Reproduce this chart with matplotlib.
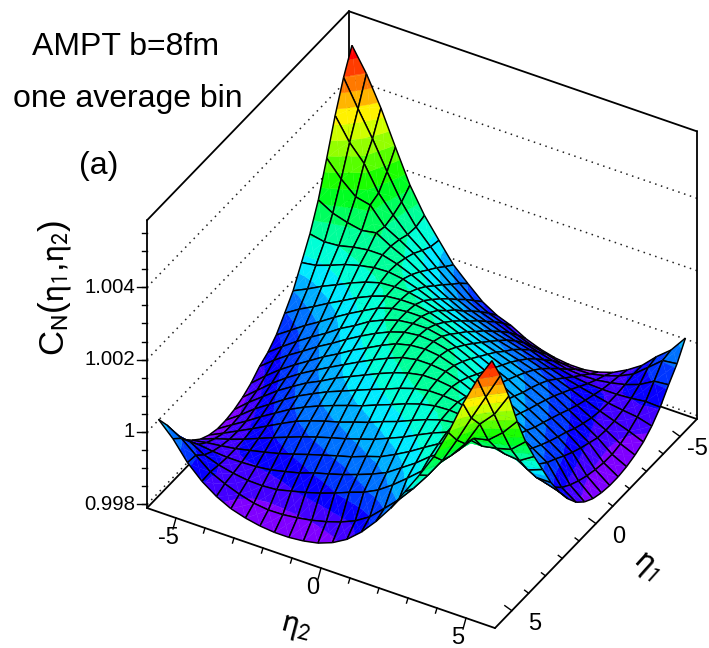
import numpy as np
import matplotlib
matplotlib.use("Agg")
import matplotlib.pyplot as plt
from matplotlib.colors import hsv_to_rgb
from mpl_toolkits.mplot3d import proj3d
from mpl_toolkits.mplot3d.art3d import Poly3DCollection, Line3DCollection

plt.rcParams['font.family'] = ['Liberation Sans', 'DejaVu Sans']
plt.rcParams['mathtext.fontset'] = 'stixsans'

# Bin centres of eta1 / eta2
eta_bins = [-5.75, -5.25, -4.75, -4.25, -3.75, -3.25, -2.75, -2.25, -1.75, -1.25, -0.75, -0.25,
            0.25, 0.75, 1.25, 1.75, 2.25, 2.75, 3.25, 3.75, 4.25, 4.75, 5.25, 5.75]

# C_N - 1 in units of 1e-5, row j holds eta1 bins i = j .. 23-j (the rest follows from the
# surface's mirror symmetry about both diagonals)
row_0 = [510, 445, 364, 270, 179, 109, 54, 0, -38, -74, -98, -113, -135, -150, -160, -165, -165, -158, -145, -124, -98, -60, -10, 47]
row_1 = [372, 303, 226, 156, 101, 60, 19, -13, -47, -68, -82, -101, -117, -126, -137, -140, -139, -130, -117, -98, -66, -33]
row_2 = [259, 191, 144, 104, 74, 40, 8, -20, -40, -54, -70, -84, -96, -106, -116, -119, -118, -112, -103, -89]
row_3 = [182, 136, 114, 90, 58, 31, 4, -14, -29, -43, -55, -66, -80, -90, -99, -104, -106, -106]
row_4 = [143, 120, 101, 77, 52, 30, 10, -3, -18, -29, -41, -53, -66, -78, -88, -97]
row_5 = [120, 109, 93, 74, 54, 37, 20, 7, -6, -17, -29, -42, -57, -72]
row_6 = [111, 105, 92, 76, 59, 45, 29, 16, 2, -9, -22, -37]
row_7 = [108, 106, 97, 84, 68, 53, 37, 24, 10, -5]
row_8 = [110, 110, 102, 89, 73, 58, 42, 26]
row_9 = [115, 115, 107, 94, 78, 60]
row_10 = [120, 120, 112, 96]
row_11 = [125, 122]
rows = [row_0, row_1, row_2, row_3, row_4, row_5, row_6, row_7, row_8, row_9, row_10, row_11]
# front edges (last bin, bins 0..23) and the row behind them (bins 1..21), read separately
front_edge = [30, -10, -62, -100, -128, -148, -160, -168, -172, -172, -168, -160, -145, -122, -88, -45, 5, 65,
              125, 190, 270, 364, 445, 510]
front_inner = [-33, -66, -98, -117, -132, -143, -148, -147, -142, -135, -125, -112, -95, -70, -33, 5, 50,
               100, 155, 225, 300]
corner_left = 30
corner_right = 19
corner_right_next = -28

z_major = [0.998, 1.0, 1.002, 1.004]
z_major_labels = ['0.998', '1', '1.002', '1.004']
eta_major = [-5, 0, 5]
eta_major_labels = ['-5', '0', '5']
eta1_label_dx = [17, 23, 23]
eta_minor = [-4, -3, -2, -1, 1, 2, 3, 4]
Z_LOW, Z_HIGH = 0.9979, 1.00585
E_LOW, E_HIGH = -6, 6

n = len(eta_bins)
M = np.zeros((n, n))
for j, r in enumerate(rows):
    for k, v in enumerate(r):
        i = j + k
        M[i, j] = M[j, i] = v
        M[n - 1 - j, n - 1 - i] = M[n - 1 - i, n - 1 - j] = v
for j, v in enumerate(front_edge):
    M[n - 1, j] = M[j, n - 1] = v
for j, v in enumerate(front_inner, start=1):
    M[n - 2, j] = M[j, n - 2] = v
M[n - 1, 0] = corner_left
M[0, n - 1] = corner_right
M[0, n - 2] = M[1, n - 1] = corner_right_next
Z = 1 + M * 1e-5
eta = np.array(eta_bins)

W, H = 709, 648
fig = plt.figure(figsize=(W / 100, H / 100), dpi=100)
side = 900
ax = fig.add_axes([(W - side) / 2 / W, (H - side) / 2 / H, side / W, side / H],
                  projection='3d', proj_type='ortho', computed_zorder=False)
ax.view_init(elev=36.7, azim=30)
ax.set_xlim(E_LOW, E_HIGH, view_margin=0)
ax.set_ylim(E_LOW, E_HIGH, view_margin=0)
ax.set_zlim(Z_LOW, Z_HIGH, view_margin=0)
ax.set_axis_off()
aspect = (404, 402, 359)
zoom = 1.0
ax.set_box_aspect(aspect, zoom=zoom)


def px(x, y, z):
    ax.apply_aspect()
    X, Y, _ = proj3d.proj_transform(x, y, z, ax.get_proj())
    return ax.transData.transform((X, Y))


# scale and place the box on the figure: left floor corner (147,508), front floor corner (495,628)
span = (px(E_HIGH, E_HIGH, Z_LOW) - px(E_HIGH, E_LOW, Z_LOW))[0]
zoom *= 348 / span
ax.set_box_aspect(aspect, zoom=zoom)
p = px(E_HIGH, E_LOW, Z_LOW)
pos = ax.get_position(original=True)
ax.set_position([pos.x0 + (147 - p[0]) / W, pos.y0 + (H - 508 - p[1]) / H, pos.width, pos.height])


def shift(x, y, z, dx, dy):
    """data-plane point displaced by (dx, dy) pixels on screen, dy downward"""
    p0 = px(x, y, z)
    A = np.column_stack([px(x + 1, y, z) - p0, px(x, y + 1, z) - p0])
    s = np.linalg.solve(A, [dx, -dy])
    return x + s[0], y + s[1], z


def seg(a, b, **kw):
    ax.plot3D([a[0], b[0]], [a[1], b[1]], [a[2], b[2]], **kw)


def label_at(x, y, z, dx, dy, text, **kw):
    q = px(x, y, z)
    fig.text((q[0] + dx) / W, (q[1] - dy) / H, text, **kw)


box = dict(color='k', lw=1.3, zorder=2, solid_capstyle='round')
lo, hi, zl, zh = E_LOW, E_HIGH, Z_LOW, Z_HIGH
for a, b in [((hi, lo, zl), (hi, hi, zl)), ((hi, hi, zl), (lo, hi, zl)), ((lo, hi, zl), (lo, lo, zl)),
             ((lo, lo, zl), (hi, lo, zl)), ((hi, lo, zl), (hi, lo, zh)), ((lo, lo, zl), (lo, lo, zh)),
             ((lo, hi, zl), (lo, hi, zh)), ((hi, lo, zh), (lo, lo, zh)), ((lo, lo, zh), (lo, hi, zh))]:
    seg(a, b, **box)

dots = dict(color='#222222', lw=1.1, ls=(0, (1, 3)), zorder=1)
for zv in z_major:
    seg((hi, lo, zv), (lo, lo, zv), **dots)
    seg((lo, lo, zv), (lo, hi, zv), **dots)

# z axis ticks and labels
tick = dict(color='k', lw=1.0, zorder=3)
z_minor = [0.998 + 0.0005 * k for k in range(0, 16)]
for zv in z_minor:
    seg((hi, lo, zv), shift(hi, lo, zv, -5, 0), **tick)
for zv, lab in zip(z_major, z_major_labels):
    seg((hi, lo, zv), shift(hi, lo, zv, -10, 0), **tick)
    label_at(hi, lo, zv, -12, 0, lab, ha='right', va='center', fontsize=14.7)

# eta2 axis (front-left floor edge), x data = eta1, y data = eta2
for v in eta_minor:
    seg((hi, v, zl), shift(hi, v, zl, -1.5, 5), **tick)
for v, lab in zip(eta_major, eta_major_labels):
    seg((hi, v, zl), shift(hi, v, zl, -3, 11), **tick)
    label_at(hi, v, zl, -8, 20, lab, ha='center', va='center', fontsize=17)
# eta1 axis (front-right floor edge)
for v in eta_minor:
    seg((v, hi, zl), shift(v, hi, zl, -4, -3), **tick)
for v, lab, dx in zip(eta_major, eta_major_labels, eta1_label_dx):
    seg((v, hi, zl), shift(v, hi, zl, -7, -5), **tick)
    label_at(v, hi, zl, dx, 13, lab, ha='center', va='center', fontsize=17)

# surface: 20 contour levels, violet -> red, painted back to front
n_levels = 20
lev_lo, lev_hi = 1 - 172e-5, 1 + 515e-5
step = (lev_hi - lev_lo) / n_levels
palette = [hsv_to_rgb((270 / 360 * (1 - k / (n_levels - 1)), 1, 1)) for k in range(n_levels)]


def clip_half(poly, level, keep_above):
    out = []
    for k in range(len(poly)):
        a, b = poly[k], poly[(k + 1) % len(poly)]
        ina, inb = (a[2] >= level) == keep_above, (b[2] >= level) == keep_above
        if ina:
            out.append(a)
        if ina != inb:
            f = (level - a[2]) / (b[2] - a[2])
            out.append(tuple(a[q] + f * (b[q] - a[q]) for q in range(3)))
    return out


def bands(tri):
    zs = [v[2] for v in tri]
    k0 = int(np.clip((min(zs) - lev_lo) // step, 0, n_levels - 1))
    k1 = int(np.clip((max(zs) - lev_lo) // step, 0, n_levels - 1))
    for k in range(k0, k1 + 1):
        poly = list(tri)
        if k > 0:
            poly = clip_half(poly, lev_lo + k * step, True)
        if k < n_levels - 1 and len(poly) >= 3:
            poly = clip_half(poly, lev_lo + (k + 1) * step, False)
        if len(poly) >= 3:
            yield poly, palette[k]


order = 10
for i in range(n - 1):
    for j in range(n - 1):
        corners = [(eta[i], eta[j], Z[i, j]), (eta[i], eta[j + 1], Z[i, j + 1]),
                   (eta[i + 1], eta[j + 1], Z[i + 1, j + 1]), (eta[i + 1], eta[j], Z[i + 1, j])]
        mid = tuple(np.mean(corners, axis=0))
        polys, cols = [], []
        for k in range(4):
            for poly, col in bands([corners[k], corners[(k + 1) % 4], mid]):
                polys.append(poly)
                cols.append(col)
        pc = Poly3DCollection(polys, facecolors=cols, edgecolors=cols, linewidths=0.25, zorder=order)
        ax.add_collection3d(pc, autolim=False)
        segs = [[corners[k], corners[(k + 1) % 4]] for k in range(4)]
        lc = Line3DCollection(segs, colors='k', linewidths=1.05, zorder=order + 1)
        ax.add_collection3d(lc, autolim=False)
        order += 2

# texts
fig.text(126 / W, 1 - 47 / H, 'AMPT b=8fm', ha='center', va='center', fontsize=23)
fig.text(128 / W, 1 - 99 / H, 'one average bin', ha='center', va='center', fontsize=23)
fig.text(99 / W, 1 - 166 / H, '(a)', ha='center', va='center', fontsize=23)
fig.text(55 / W, 1 - 288 / H, r'C$_{\mathrm{N}}$($\mathrm{\eta}_{1}$,$\mathrm{\eta}_{2}$)', rotation=90,
         ha='center', va='center', fontsize=25)
fig.text(296 / W, 1 - 627 / H, r'$\mathrm{\eta}_{2}$', rotation=-15, ha='center', va='center', fontsize=25)
fig.text(647 / W, 1 - 566 / H, r'$\mathrm{\eta}_{1}$', rotation=-42, ha='center', va='center', fontsize=25)

fig.savefig('out.png', dpi=100)
